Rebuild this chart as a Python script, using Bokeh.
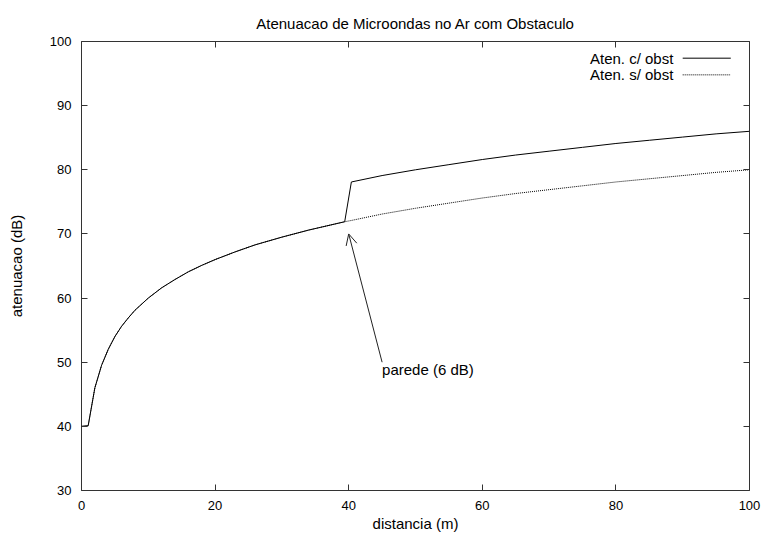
from bokeh.plotting import figure
from bokeh.models import (Range1d, LinearAxis, FixedTicker, CustomJSTickFormatter,
                          Arrow, OpenHead, Label)
from bokeh.embed import file_html
from bokeh.resources import INLINE

# ---- data ----
dist = [0, 1, 2, 3, 4, 5, 6, 7, 8, 10, 12, 14, 16, 18, 20, 23, 26, 30, 34, 39.4,
        40.4, 45, 50, 55, 60, 65, 70, 75, 80, 85, 90, 95, 100]
aten_sem = [40.0, 40.1, 46.0, 49.5, 52.0, 54.0, 55.6, 56.9, 58.1, 60.0, 61.6, 62.9,
            64.1, 65.1, 66.0, 67.2, 68.3, 69.5, 70.6, 71.9,
            72.1, 73.1, 74.0, 74.8, 75.6, 76.3, 76.9, 77.5, 78.1, 78.6, 79.1, 79.6, 80.0]
aten_com = [40.0, 40.1, 46.0, 49.5, 52.0, 54.0, 55.6, 56.9, 58.1, 60.0, 61.6, 62.9,
            64.1, 65.1, 66.0, 67.2, 68.3, 69.5, 70.6, 71.9,
            78.1, 79.1, 80.0, 80.8, 81.6, 82.3, 82.9, 83.5, 84.1, 84.6, 85.1, 85.6, 86.0]
x_ticks = [0, 20, 40, 60, 80, 100]
y_ticks = [30, 40, 50, 60, 70, 80, 90, 100]
series_names = ["Aten. c/ obst", "Aten. s/ obst"]
title_text = "Atenuacao de Microondas no Ar com Obstaculo"
x_label = "distancia (m)"
y_label = "atenuacao (dB)"
note_text = "parede (6 dB)"
note_from = (45, 50)
note_to = (40, 70)

FONT = "Liberation Sans"
TXT = "15px"

p = figure(width=766, height=539, frame_width=668, frame_height=449,
           x_range=Range1d(0, 100), y_range=Range1d(30, 100),
           output_backend="svg", toolbar_location=None,
           min_border_left=81, min_border_top=41, min_border_bottom=49,
           min_border_right=17)
p.background_fill_color = "white"
p.border_fill_color = "white"
p.outline_line_color = "#333333"
p.outline_line_width = 1
p.xgrid.visible = False
p.ygrid.visible = False

p.title.text = title_text
p.title.align = "center"
p.title.text_font = FONT
p.title.text_font_size = TXT
p.title.text_font_style = "normal"
p.title.text_color = "black"
p.title.standoff = 20

def style_axis(ax, ticks, show_labels=True):
    ax.ticker = FixedTicker(ticks=ticks)
    ax.axis_line_color = None
    ax.major_tick_in = 6
    ax.major_tick_out = 0
    ax.major_tick_line_color = "#333333"
    ax.minor_tick_line_color = None
    ax.major_label_text_font = FONT
    ax.major_label_text_font_size = "13px"
    ax.major_label_text_color = "black"
    ax.major_label_standoff = 10
    if not show_labels:
        ax.formatter = CustomJSTickFormatter(code="return ''")
        ax.major_label_standoff = 0

xa = p.xaxis[0]
ya = p.yaxis[0]
style_axis(xa, x_ticks)
style_axis(ya, y_ticks)
xa.axis_label = x_label
ya.axis_label = y_label
for ax in (xa, ya):
    ax.axis_label_text_font = FONT
    ax.axis_label_text_font_size = TXT
    ax.axis_label_text_font_style = "normal"
    ax.axis_label_text_color = "black"
xa.axis_label_standoff = 2
ya.axis_label_standoff = 22

top_ax = LinearAxis()
right_ax = LinearAxis()
style_axis(top_ax, x_ticks, show_labels=False)
style_axis(right_ax, y_ticks, show_labels=False)
p.add_layout(top_ax, "above")
p.add_layout(right_ax, "right")

# curves
p.line(dist, aten_com, line_color="black", line_width=1)
p.line(dist, aten_sem, line_color="black", line_width=1, line_dash="1 1")

# annotation
p.add_layout(Arrow(end=OpenHead(size=11, line_width=1, line_color="#222222"),
                   x_start=note_from[0], y_start=note_from[1],
                   x_end=note_to[0], y_end=note_to[1],
                   line_width=1, line_color="#222222"))
p.add_layout(Label(x=note_from[0], y=note_from[1] - 1.2, text=note_text,
                   text_font=FONT, text_font_size=TXT, text_color="black",
                   text_align="left", text_baseline="middle"))

# gnuplot-style key: text on the left, line sample on the right
key_y = [97.4, 94.8]
key_dash = ["solid", "1 1"]
for name, ky, dash in zip(series_names, key_y, key_dash):
    p.add_layout(Label(x=88.6, y=ky, text=name, text_font=FONT,
                       text_font_size=TXT, text_color="black",
                       text_align="right", text_baseline="middle"))
    p.line([90.0, 97.2], [ky, ky], line_color="black", line_width=1, line_dash=dash)

open("out.html", "w").write(file_html(p, INLINE))
